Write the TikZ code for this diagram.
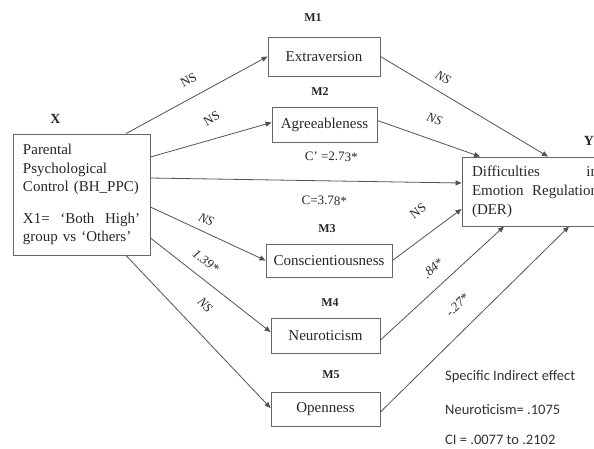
\documentclass[tikz,border=0pt]{standalone}
\usepackage{fontspec}
\setmainfont{Liberation Serif}
\newfontfamily\serifft{Liberation Serif}
\newfontfamily\notefont{Carlito}
\usetikzlibrary{positioning,arrows.meta}

\begin{document}
\begin{tikzpicture}[x=1pt, y=-1pt,
    box/.style={draw=black!60, line width=0.9pt, rectangle, text=black!85,
        font=\serifft\fontsize{15}{18}\selectfont},
    mlbl/.style={text=black!85, font=\serifft\bfseries\fontsize{12}{14}\selectfont},
    vlbl/.style={text=black!85, font=\serifft\bfseries\fontsize{14}{16}\selectfont},
    lbl/.style={text=black!85, inner sep=0pt, sloped, font=\serifft\fontsize{13}{15}\selectfont},
    ilbl/.style={lbl, font=\serifft\itshape\fontsize{13}{15}\selectfont},
    note/.style={text=black!80, inner sep=0pt, anchor=west, font=\notefont\fontsize{14.5}{17}\selectfont},
    arr/.style={draw=black!68, line width=0.8pt, -{Triangle[length=6pt,width=5pt]}}]
    \useasboundingbox (0,0) rectangle (594,448);
    \clip (0,0) rectangle (594,448);

    % predictor and outcome
    \node[box, minimum width=137pt, minimum height=121pt, inner xsep=10pt, text width=117pt,
        align=left, font=\serifft\fontsize{15}{18.5}\selectfont] (ppc) at (81.5,194.5)
        {Parental\\Psychological\\Control (BH\_PPC)\\[13pt]\makebox[117pt][l]{X1=\hfill‘Both\hfill High’}\\group vs ‘Others’};
    \node[vlbl, above=7pt of ppc, xshift=-26pt] (xlbl) {X};
    \node[box, minimum width=146pt, minimum height=69pt, inner xsep=10pt, text width=126pt,
        align=left, font=\serifft\fontsize{15}{19}\selectfont] (der) at (535,191.5)
        {\makebox[126pt][l]{Difficulties\hfill in}\\\makebox[126pt][l]{Emotion\hfill Regulation}\\(DER)};
    \node[vlbl, above=8pt of der, xshift=54pt] (ylbl) {Y};

    % mediators
    \node[box, minimum width=112pt, minimum height=39pt] (ext) at (324,56.5) {Extraversion};
    \node[box, minimum width=105pt, minimum height=35pt] (agr) at (324.5,124.5) {Agreeableness};
    \node[box, minimum width=126pt, minimum height=33pt] (con) at (329,260.5) {Conscientiousness};
    \node[box, minimum width=109pt, minimum height=35pt] (neu) at (325.5,335.5) {Neuroticism};
    \node[box, minimum width=109pt, minimum height=34pt] (ope) at (325.5,409) {Openness};
    \node[mlbl, above=11.5pt of ext, xshift=-11pt] (m1) {M1};
    \node[mlbl, above=7.5pt of agr, xshift=-4.5pt] (m2) {M2};
    \node[mlbl, above=7.5pt of con, xshift=-2pt] (m3) {M3};
    \node[mlbl, above=7.5pt of neu, xshift=4.5pt] (m4) {M4};
    \node[mlbl, above=9.5pt of ope, xshift=5.5pt] (m5) {M5};

    % a paths
    \draw[arr] ([xshift=44.5pt]ppc.north) -- node[lbl, pos=0.5, above=12.5pt] {NS} (ext.west);
    \draw[arr] ([yshift=37.5pt]ppc.east) -- node[lbl, pos=0.56, above=15.5pt, rotate=14] {NS} ([yshift=2pt]agr.west);
    \draw[arr] ([yshift=-12.5pt]ppc.east) -- node[ilbl, pos=0.44, above=7.5pt] {NS} (con.west);
    \draw[arr] ([yshift=-43.5pt]ppc.east) -- node[ilbl, pos=0.38, above=11pt] {1.39*} ([yshift=3.5pt]neu.west);
    \draw[arr] ([xshift=44.5pt]ppc.south) -- node[ilbl, pos=0.43, above=18.5pt] {NS} ([yshift=1pt]ope.west);

    % direct path
    \draw[arr] ([yshift=16.5pt]ppc.east) -- node[lbl, pos=0.58, above=19.5pt] {C’ =2.73*}
        node[lbl, pos=0.56, below=15pt] {C=3.78*} ([yshift=8.5pt]der.west);

    % b paths
    \draw[arr] (ext.east) -- node[ilbl, pos=0.33, above=9.5pt] {NS} ([xshift=13pt]der.north);
    \draw[arr] ([yshift=4pt]agr.east) -- node[ilbl, pos=0.49, above=15.5pt] {NS} ([xshift=-55pt]der.north);
    \draw[arr] (con.east) -- node[lbl, pos=0.58, above=19.5pt] {NS} ([yshift=-17.5pt]der.west);
    \draw[arr] ([yshift=-4.5pt]neu.east) -- node[ilbl, pos=0.52, above=12.5pt] {.84*} ([xshift=-31pt]der.south);
    \draw[arr] ([yshift=-3pt]ope.east) -- node[ilbl, pos=0.49, above=17.5pt] {-.27*} ([xshift=34pt]der.south);

    % indirect effect
    \node[note] (sie) at (445,377) {Specific Indirect effect};
    \node[note] (nie) at (445,410) {Neuroticism= .1075};
    \node[note] (ci) at (445,440) {CI = .0077 to .2102};
\end{tikzpicture}
\end{document}
